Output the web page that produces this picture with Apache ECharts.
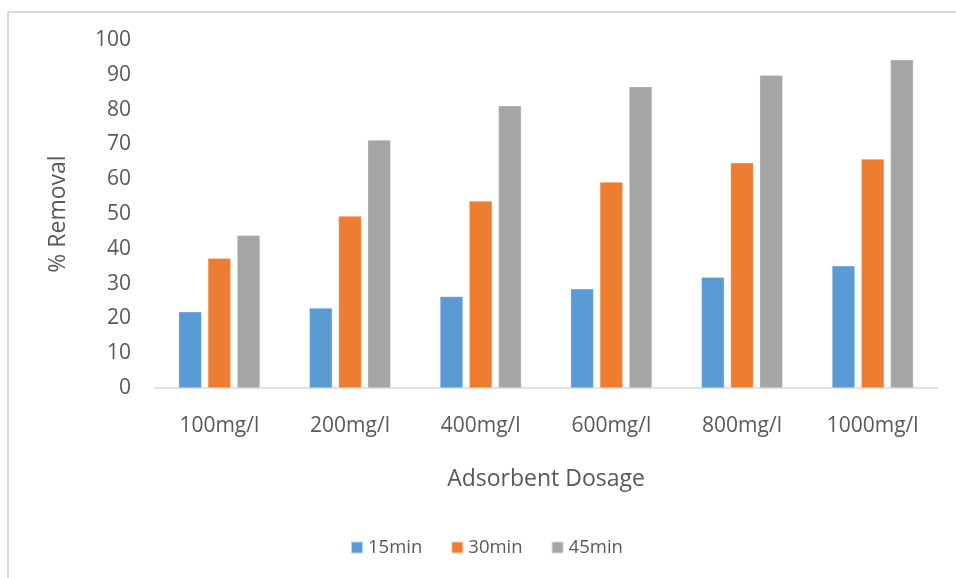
<!DOCTYPE html>
<html>
<head>
<meta charset="utf-8">
<script src="https://cdn.jsdelivr.net/npm/echarts@6/dist/echarts.min.js"></script>
<style>
html,body{margin:0;padding:0;background:#fff;}
#c{width:956px;height:578px;}
</style>
</head>
<body>
<div id="c"></div>
<script>
const categories = ['100mg/l','200mg/l','400mg/l','600mg/l','800mg/l','1000mg/l'];
const seriesNames = ['15min','30min','45min'];
const s15 = [21.9, 23.0, 26.3, 28.5, 31.8, 35.1];
const s30 = [37.3, 49.4, 53.7, 59.2, 64.7, 65.8];
const s45 = [43.9, 71.3, 81.1, 86.6, 89.9, 94.3];
const colors = ['#5B9BD5','#ED7D31','#A5A5A5'];

const chart = echarts.init(document.getElementById('c'), null, {renderer:'canvas'});
const font = 'Open Sans';
const mk = (name, data, color) => ({
  name, type:'bar', data, barWidth:23, barGap:'27%',
  itemStyle:{color, borderColor:'rgba(255,255,255,0.6)', borderWidth:0.5},
  emphasis:{disabled:true}
});
chart.setOption({
  animation:false,
  textStyle:{fontFamily:font},
  graphic:[
    {type:'line', shape:{x1:8,y1:12,x2:8,y2:578}, style:{stroke:'#d9d9d9', lineWidth:2}},
    {type:'line', shape:{x1:8,y1:12,x2:956,y2:12}, style:{stroke:'#d9d9d9', lineWidth:2}}
  ],
  grid:{left:154, right:18, top:40, bottom:190, containLabel:false},
  legend:{
    data:seriesNames, bottom:16, left:345,
    itemWidth:12, itemHeight:12, itemGap:28, icon:'rect',
    textStyle:{fontFamily:font, fontSize:18.5, color:'#595959'}
  },
  xAxis:{
    type:'category', data:categories,
    name:'Adsorbent Dosage', nameLocation:'middle', nameGap:80,
    nameTextStyle:{fontFamily:font, fontSize:23, color:'#595959'},
    axisLine:{lineStyle:{color:'#d9d9d9', width:1.5}},
    axisTick:{show:false},
    axisLabel:{fontFamily:font, fontSize:21, color:'#595959', margin:28}
  },
  yAxis:{
    type:'value', min:0, max:100, interval:10,
    name:'% Removal', nameLocation:'middle', nameGap:84, nameRotate:90,
    nameTextStyle:{fontFamily:font, fontSize:23, color:'#595959'},
    axisLine:{show:false}, axisTick:{show:false}, splitLine:{show:false},
    axisLabel:{fontFamily:font, fontSize:21, color:'#595959', margin:23}
  },
  series:[mk(seriesNames[0], s15, colors[0]), mk(seriesNames[1], s30, colors[1]), mk(seriesNames[2], s45, colors[2])]
});
</script>
</body>
</html>
